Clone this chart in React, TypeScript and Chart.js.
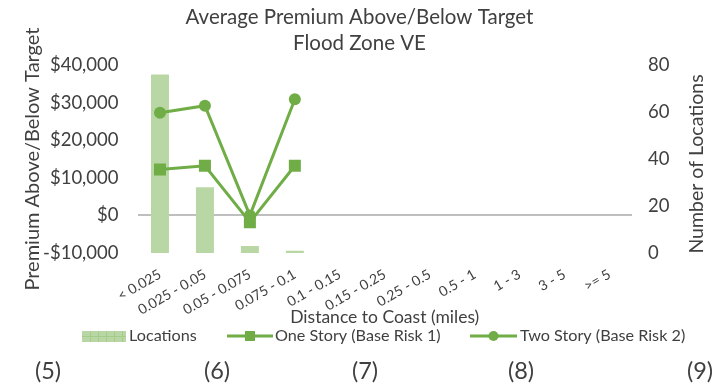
import React, { useEffect, useRef } from 'react';
import { Chart, registerables } from 'chart.js';

Chart.register(...registerables);

const titleLines = ['Average Premium Above/Below Target', 'Flood Zone VE'];
const categories = ['< 0.025', '0.025 - 0.05', '0.05 - 0.075', '0.075 - 0.1', '0.1 - 0.15', '0.15 - 0.25', '0.25 - 0.5', '0.5 - 1', '1 - 3', '3 - 5', '>= 5'];
const locations = [76, 28, 3, 1, null, null, null, null, null, null, null];
const oneStory = [12200, 13200, -1800, 13200, null, null, null, null, null, null, null];
const twoStory = [27300, 29200, 0, 30900, null, null, null, null, null, null, null];
const legendLabels = ['Locations', 'One Story (Base Risk 1)', 'Two Story (Base Risk 2)'];
const footnotes = ['(5)', '(6)', '(7)', '(8)', '(9)'];

const FONT = 'Lato, "Open Sans", sans-serif';
const TEXT = '#404040';
const LINE = '#70ad47';
const BAR = '#b9d7a5';

const fmtMoney = (v: number) => (v < 0 ? '-$' : '$') + Math.abs(v).toLocaleString('en-US');

const extrasPlugin = {
  id: 'extras',
  afterDraw(chart: any) {
    const ctx = chart.ctx;
    ctx.save();
    // right axis title (bottom-to-top)
    ctx.fillStyle = TEXT;
    ctx.font = `19.5px ${FONT}`;
    ctx.textAlign = 'center';
    ctx.textBaseline = 'middle';
    ctx.save();
    ctx.translate(697, 164);
    ctx.rotate(-Math.PI / 2);
    ctx.fillText('Number of Locations', 0, 0);
    ctx.restore();

    // legend
    const ly = 336;
    ctx.font = `16.2px ${FONT}`;
    ctx.textAlign = 'left';
    ctx.fillStyle = BAR;
    ctx.fillRect(82, ly - 5, 44, 11);
    ctx.strokeStyle = '#a6cc8c';
    ctx.lineWidth = 1;
    ctx.beginPath();
    for (let x = 90; x < 126; x += 8) {
      ctx.moveTo(x + 0.5, ly - 5);
      ctx.lineTo(x + 0.5, ly + 6);
    }
    ctx.moveTo(82, ly + 0.5);
    ctx.lineTo(126, ly + 0.5);
    ctx.stroke();
    ctx.fillStyle = TEXT;
    ctx.fillText(legendLabels[0], 129, ly);

    const drawLineKey = (x1: number, x2: number, style: string) => {
      ctx.strokeStyle = LINE;
      ctx.lineWidth = 3;
      ctx.beginPath();
      ctx.moveTo(x1, ly);
      ctx.lineTo(x2, ly);
      ctx.stroke();
      ctx.fillStyle = LINE;
      const cx = (x1 + x2) / 2;
      if (style === 'rect') {
        ctx.fillRect(cx - 5, ly - 5, 10, 10);
      } else {
        ctx.beginPath();
        ctx.arc(cx, ly, 5, 0, Math.PI * 2);
        ctx.fill();
      }
    };
    drawLineKey(227, 273, 'rect');
    ctx.fillStyle = TEXT;
    ctx.fillText(legendLabels[1], 275, ly);
    drawLineKey(470, 517, 'circle');
    ctx.fillStyle = TEXT;
    ctx.fillText(legendLabels[2], 520, ly);

    // footnotes
    const fx = [48, 217, 365, 521, 700];
    ctx.font = `23.5px ${FONT}`;
    ctx.textAlign = 'center';
    footnotes.forEach((t, i) => ctx.fillText(t, fx[i], 371));
    ctx.restore();
  },
};

export default function App() {
  const ref = useRef<HTMLCanvasElement>(null);
  useEffect(() => {
    if (!ref.current) return;
    const chart = new Chart(ref.current, {
      type: 'bar',
      data: {
        labels: categories,
        datasets: [
          {
            type: 'line',
            label: legendLabels[1],
            data: oneStory,
            yAxisID: 'y',
            borderColor: LINE,
            backgroundColor: LINE,
            borderWidth: 3,
            pointStyle: 'rect',
            pointRadius: 8.5,
            pointBorderWidth: 0,
            spanGaps: false,
            order: 1,
          } as any,
          {
            type: 'line',
            label: legendLabels[2],
            data: twoStory,
            yAxisID: 'y',
            borderColor: LINE,
            backgroundColor: LINE,
            borderWidth: 3,
            pointStyle: 'circle',
            pointRadius: 6,
            pointBorderWidth: 0,
            spanGaps: false,
            order: 1,
          } as any,
          {
            type: 'bar',
            label: legendLabels[0],
            data: locations,
            yAxisID: 'y1',
            backgroundColor: BAR,
            barPercentage: 0.8,
            categoryPercentage: 0.5,
            order: 2,
          } as any,
        ],
      },
      options: {
        responsive: false,
        animation: false,
        layout: { padding: { left: 0, right: 0, top: 0, bottom: 60 } },
        plugins: {
          legend: { display: false },
          tooltip: { enabled: false },
          title: {
            display: true,
            text: titleLines,
            color: TEXT,
            font: { family: FONT, size: 20.5, weight: 'normal', lineHeight: 1.27 },
            padding: { top: 4, bottom: 9 },
          },
        },
        scales: {
          x: {
            grid: { display: false },
            border: { display: false },
            ticks: {
              minRotation: 30,
              maxRotation: 30,
              autoSkip: false,
              color: TEXT,
              font: { family: FONT, size: 14 },
              padding: 5,
            },
            title: {
              display: true,
              text: 'Distance to Coast (miles)',
              color: TEXT,
              font: { family: FONT, size: 17.5 },
              padding: { top: 0, bottom: 0 },
            },
            afterFit: (s: any) => { s.height = 75; },
          },
          y: {
            position: 'left',
            min: -10000,
            max: 40000,
            ticks: {
              stepSize: 10000,
              color: TEXT,
              font: { family: FONT, size: 18.5 },
              padding: 19,
              callback: (v: any) => fmtMoney(Number(v)),
            },
            grid: {
              drawTicks: false,
              lineWidth: 2,
              color: (c: any) => (c.tick && c.tick.value === 0 ? '#bfbfbf' : 'rgba(0,0,0,0)'),
            },
            border: { display: false },
            title: {
              display: true,
              text: 'Premium Above/Below Target',
              color: TEXT,
              font: { family: FONT, size: 20 },
              padding: { top: 21, bottom: 0 },
            },
            afterFit: (s: any) => { s.width = 137.5; },
          },
          y1: {
            position: 'right',
            min: 0,
            max: 80,
            ticks: {
              stepSize: 20,
              color: TEXT,
              font: { family: FONT, size: 18.5 },
              padding: 16,
            },
            grid: { display: false, drawTicks: false },
            border: { display: false },
            afterFit: (s: any) => { s.width = 87; },
          },
        },
      },
      plugins: [extrasPlugin],
    });
    return () => chart.destroy();
  }, []);
  return (
    <div style={{ position: 'absolute', left: 0, top: 0, width: 719, height: 388, background: '#fff' }}>
      <canvas ref={ref} width={719} height={388} style={{ display: 'block' }} />
    </div>
  );
}
